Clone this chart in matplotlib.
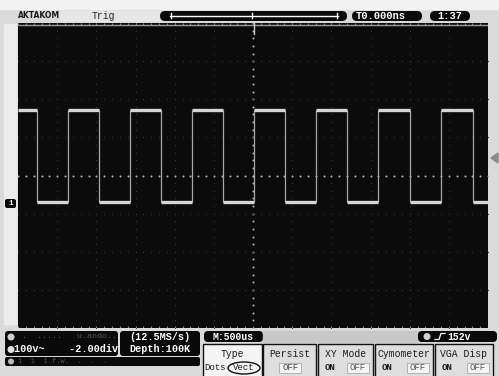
import matplotlib
matplotlib.use('Agg')
import matplotlib.pyplot as plt
from matplotlib.patches import FancyBboxPatch, Rectangle, Ellipse, Polygon
import numpy as np

# ---------------- data ----------------
time_per_div_us = 500
h_divs = 12
v_divs = 8
rise_us = [-2361, -1570, -779, 13, 804, 1596, 2400]
fall_us = [-2757, -1966, -1174, -383, 408, 1200, 2004, 2808]
high_div = 1.73
low_div = -0.70
start_high = True

brand = "AKTAKOM"
trig_label = "Trig"
trig_time = "T0.000ns"
clock = "1:37"
ch_line1 = "100v~    -2.00div"
rate_label = "(12.5MS/s)"
depth_label = "Depth:100K"
timebase = "M:500us"
trig_level = "152v"
menu_titles = ["Type", "Persist", "XY Mode", "Cymometer", "VGA Disp"]
menu_opts = [["Dots", "Vect"], ["OFF"], ["ON", "OFF"], ["ON", "OFF"], ["ON", "OFF"]]

W, H = 499, 376
MONO = ['Liberation Mono', 'DejaVu Sans Mono']

fig = plt.figure(figsize=(W / 100, H / 100), dpi=100)
fig.patch.set_facecolor('#dcdcdc')

# chrome overlay in pixel coordinates
bg = fig.add_axes([0, 0, 1, 1], zorder=0)
bg.set_xlim(0, W)
bg.set_ylim(H, 0)
bg.axis('off')
bg.add_patch(Rectangle((0, 0), W, H, color='#dadada', zorder=0))
bg.add_patch(Rectangle((0, 0), W, 9, color='#f2f2f2', zorder=0))
bg.add_patch(Rectangle((4, 24), 12, 300, color='#ececec', zorder=0))


def rbox(x0, y0, x1, y1, fc='#0a0a0a', ec='none', lw=0, pad=2.5, z=1):
    bg.add_patch(FancyBboxPatch((x0, y0), x1 - x0, y1 - y0,
                                boxstyle=f"round,pad=0,rounding_size={pad}",
                                fc=fc, ec=ec, lw=lw, zorder=z))


def txt(x, y, s, size=7.5, color='white', ha='left', weight='bold', fam=MONO):
    bg.text(x, y, s, fontsize=size, color=color, ha=ha, va='center',
            family=fam, weight=weight, zorder=5)


# ---- top bar ----
txt(18, 15, brand, size=5.5, color='#1a1a1a', fam=['DejaVu Sans'])
bg.add_patch(Rectangle((60, 11), 100, 10, color='#e6e6e6', zorder=1))
txt(92, 16, trig_label, size=7, color='#222222', weight='normal')
rbox(160, 11, 347, 21, pad=5)
bg.plot([170, 338], [15.5, 15.5], color='white', lw=1.0, zorder=3)
bg.plot([171, 171], [13, 18], color='white', lw=1.0, zorder=3)
bg.plot([337, 337], [13, 18], color='white', lw=1.0, zorder=3)
bg.plot([252, 252], [13, 18], color='white', lw=1.0, zorder=3)
rbox(352, 11, 422, 21, pad=5)
txt(356, 16, trig_time, size=7.5)
rbox(430, 11, 470, 21, pad=5)
txt(450, 16, clock, size=7.5, ha='center')

# ---- left / right markers ----
rbox(5, 199, 16, 208, pad=2)
txt(10.5, 203.5, "1", size=5.5, ha='center')
bg.add_patch(Polygon([[491, 158], [498, 153], [498, 163]], color='#8a8a8a', zorder=2))

# ---- bottom info ----
rbox(5, 331, 118, 356, pad=3)
bg.add_patch(Ellipse((11, 337), 7, 7, fc='#cfcfcf', ec='none', zorder=3))
txt(22, 337, ".  .....   u.ando..", size=6, color='#555555', weight='normal')
bg.add_patch(Ellipse((11, 349.5), 7, 7, fc='#e0e0e0', ec='none', zorder=3))
txt(14, 349.5, ch_line1, size=7.3)
rbox(5, 357, 200, 366, pad=2)
bg.add_patch(Ellipse((11, 361.5), 6, 6, fc='#bbbbbb', ec='none', zorder=3))
txt(18, 361.5, "1  1  1.f.w.  .  .  .", size=5, color='#555555', weight='normal')
rbox(120, 331, 200, 356, pad=3)
txt(160, 337, rate_label, size=7.3, ha='center')
txt(160, 349.5, depth_label, size=7.3, ha='center')

rbox(204, 331, 263, 342, pad=4)
txt(233, 336.5, timebase, size=7, ha='center')
bg.add_patch(Rectangle((263, 331), 155, 11, color='#c8c8c8', zorder=1))
rbox(418, 331, 497, 342, pad=4)
bg.add_patch(Ellipse((427, 336.5), 7, 7, fc='#d0d0d0', ec='none', zorder=3))
bg.plot([435, 439, 441, 445], [339.5, 339.5, 333.5, 333.5], color='white', lw=0.9, zorder=4)
txt(447, 336.5, trig_level, size=7)

# ---- menu ----
menu_x = [(203, 262), (263, 316), (318, 373), (375, 433), (435, 493)]
for i, ((x0, x1), title, opts) in enumerate(zip(menu_x, menu_titles, menu_opts)):
    fc = '#f4f4f4' if i == 0 else '#dedede'
    bg.add_patch(Rectangle((x0, 344), x1 - x0, 34, fc=fc, ec='#111111', lw=1.0, zorder=2))
    cx = (x0 + x1) / 2
    txt(cx, 354, title, size=7, color='#1a1a1a', ha='center', weight='normal')
    if i == 0:
        txt(x0 + 1, 368, opts[0], size=6.5, color='#1a1a1a', weight='normal')
        bg.add_patch(Ellipse((x0 + 41, 368), 32, 12, fc='none', ec='#111111', lw=1.0, zorder=4))
        txt(x0 + 41, 368, opts[1], size=6.5, color='#1a1a1a', ha='center', weight='normal')
    elif len(opts) == 1:
        bg.add_patch(Rectangle((cx - 10, 363), 22, 10, fc='#f4f4f4', ec='#aaaaaa', lw=0.6, zorder=3))
        txt(cx + 1, 368, opts[0], size=6.5, color='#444444', ha='center', weight='normal')
    else:
        txt(x0 + 12, 368, opts[0], size=6.5, color='#1a1a1a', ha='center')
        bg.add_patch(Rectangle((x1 - 26, 363), 22, 10, fc='#f4f4f4', ec='#aaaaaa', lw=0.6, zorder=3))
        txt(x1 - 15, 368, opts[1], size=6.5, color='#555555', ha='center', weight='normal')

# ---------------- scope screen ----------------
x_left, x_right, y_top, y_bot = 18, 488, 23, 328
ax = fig.add_axes([x_left / W, 1 - y_bot / H, (x_right - x_left) / W, (y_bot - y_top) / H], zorder=1)
ax.set_facecolor('#0b0b0b')
tmax = h_divs / 2 * time_per_div_us
ax.set_xlim(-tmax, tmax)
ax.set_ylim(-v_divs / 2, v_divs / 2)
ax.set_xticks([])
ax.set_yticks([])
for s in ax.spines.values():
    s.set_visible(False)

# graticule dots
sub = 5
for k in range(-h_divs // 2 + 1, h_divs // 2):
    xs = np.full(v_divs * sub + 1, k * time_per_div_us)
    ys = np.linspace(-v_divs / 2, v_divs / 2, v_divs * sub + 1)
    c = '#b0b0b0' if k == 0 else '#3c3c3c'
    ax.scatter(xs, ys, s=2.2 if k == 0 else 0.8, color=c, lw=0, zorder=1)
for j in range(-v_divs // 2 + 1, v_divs // 2):
    xs = np.linspace(-tmax, tmax, h_divs * sub + 1)
    ys = np.full_like(xs, j)
    c = '#b0b0b0' if j == 0 else '#3c3c3c'
    ax.scatter(xs, ys, s=2.2 if j == 0 else 0.8, color=c, lw=0, zorder=1)
# edge ticks
xt = np.linspace(-tmax, tmax, h_divs * sub + 1)
ax.vlines(xt, v_divs / 2 - 0.06, v_divs / 2, color='#888888', lw=0.8, zorder=1)
ax.vlines(xt, -v_divs / 2, -v_divs / 2 + 0.06, color='#888888', lw=0.8, zorder=1)
ax.hlines(0.985 * v_divs / 2, -tmax, tmax, color='#9a9a9a', lw=1.0, zorder=1)

# trigger position marker
ax.plot([13, 13], [3.7, 4.0], color='#cccccc', lw=1.0, zorder=3)

# waveform
edges = sorted([(t, 'r') for t in rise_us] + [(t, 'f') for t in fall_us])
state = start_high
t_prev = -tmax
for t, kind in edges + [(tmax, None)]:
    lvl = high_div if state else low_div
    ax.hlines(lvl, t_prev, t, color='#d6d6d6', lw=2.4, zorder=4)
    if kind is not None:
        ax.vlines(t, low_div, high_div, color='#a8a8a8', lw=0.9, zorder=3)
        state = (kind == 'r')
    t_prev = t

fig.savefig('out.png', dpi=100, facecolor=fig.get_facecolor())
